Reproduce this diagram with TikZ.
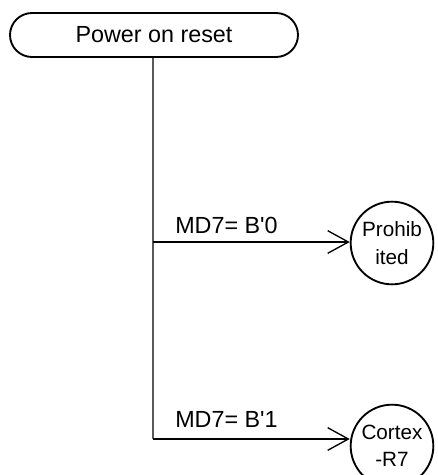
\documentclass[tikz,border=0pt]{standalone}
\usepackage{fontspec}
\setmainfont{Liberation Sans}[Ligatures=TeXOff]
\usetikzlibrary{arrows.meta,shapes.misc}
\begin{document}
\begin{tikzpicture}[x=0.75pt,y=-0.75pt,
  txt/.style={font=\fontsize{17.5}{21}\selectfont},
  startbox/.style={rounded rectangle,draw=black,line width=1.4pt,minimum width=216pt,minimum height=33pt,inner sep=0pt,txt},
  state/.style={circle,draw=black,line width=1.4pt,minimum size=62pt,inner sep=0pt,align=center,font=\fontsize{15.5}{20.5}\selectfont},
  trunk/.style={draw=black!65,line width=1.4pt},
  branch/.style={draw=black,line width=1pt,-{Straight Barb[length=15.5pt,width=17pt,line width=1pt]}},
  lbl/.style={txt,anchor=base west,inner sep=0pt}]
\useasboundingbox (0,0) rectangle (437,475);
\node[startbox] (por) at (154,35) {Power on reset};
\node[state] (proh) at (392,243) {Prohib\\ited};
\node[state] (cortex) at (392,446) {Cortex\\-R7};
\coordinate (j0) at (153,242);
\coordinate (j1) at (153,439);
\draw[trunk] (por.south -| j0) -- (j1);
\draw[branch] (j0) -- (proh.west |- j0);
\draw[branch] (j1) -- (cortex.west |- j1);
\node[lbl] (l0) at (175,233) {MD7= B'0};
\node[lbl] (l1) at (175,427) {MD7= B'1};
\end{tikzpicture}
\end{document}
